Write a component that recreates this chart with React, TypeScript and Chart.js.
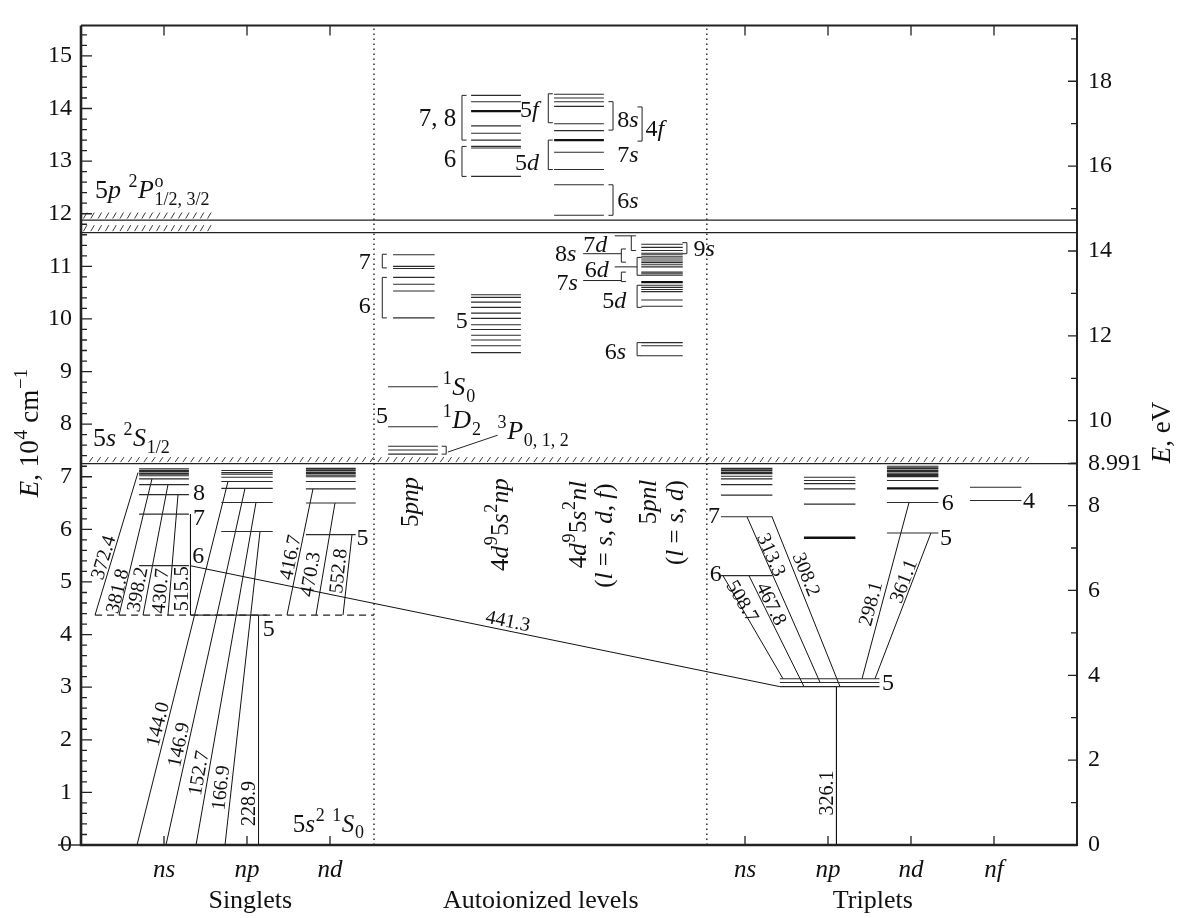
import React, { useEffect, useRef } from 'react';
import { Chart, registerables } from 'chart.js';

Chart.register(...registerables);

const FONT = '"Liberation Serif", "Times New Roman", "DejaVu Serif", serif';

// ---------- axes ----------
const Y_MAX = 15.58; // 10^4 cm^-1
const CM_PER_EV = 0.80655; // 10^4 cm^-1 per eV
const Y_TICKS = [0, 1, 2, 3, 4, 5, 6, 7, 8, 9, 10, 11, 12, 13, 14, 15];
const EV_TICKS = [0, 2, 4, 6, 8, 8.991, 10, 12, 14, 16, 18];
const EV_MINOR = [1, 3, 5, 7, 9, 11, 13, 15, 17, 19];
const X_TICKS = [1, 2, 3, 8, 9, 10, 11];
const X_TICK_LABELS = ['ns', 'np', 'nd', 'ns', 'np', 'nd', 'nf'];
const GROUPS = ['Singlets', 'Autoionized levels', 'Triplets'];
const GROUP_X = [2.04, 5.54, 9.54];

// ---------- reference lines ----------
const IONIZATION = 7.25;
const ION_P = [11.88, 11.64];
const SINGLET_P1 = 4.37;
const SEPARATORS = [3.53, 7.54];

// ---------- level energies (10^4 cm^-1) ----------
const SINGLET_NS = [5.31, 6.29, 6.66, 6.85, 6.96, 7.02, 7.05, 7.07, 7.1, 7.12, 7.15];
const SINGLET_NP = [5.96, 6.51, 6.78, 6.91, 6.99, 7.05, 7.08, 7.12];
const SINGLET_ND = [5.9, 6.5, 6.77, 6.91, 7.0, 7.03, 7.06, 7.08, 7.11, 7.13, 7.16];
const TRIPLET_P = [3.01, 3.09, 3.16];
const TRIPLET_NS = [5.12, 6.24, 6.65, 6.85, 6.96, 7.01, 7.06, 7.08, 7.11, 7.13, 7.16];
const TRIPLET_NP = [6.48, 6.77, 6.87, 6.93, 6.99];
const TRIPLET_NP_THICK = [5.84];
const TRIPLET_ND = [5.93, 6.51, 6.93, 7.0, 7.02, 7.04, 7.07, 7.1, 7.12, 7.15, 7.17, 7.2];
const TRIPLET_ND_THICK = [6.78];
const TRIPLET_NF = [6.55, 6.8];
const AUTO_5PNP_LOW = [7.43, 7.51, 7.58, 7.95, 8.71];
const AUTO_5PNP_67 = [10.02, 10.53, 10.66, 10.79, 10.96, 11.0, 11.22];
const AUTO_4D_NP = [9.36, 9.49, 9.6, 9.69, 9.8, 9.89, 10.01, 10.11, 10.22, 10.32, 10.41, 10.46];
const AUTO_5PNP_HIGH = [12.71, 13.25, 13.28, 13.4, 13.53, 13.67, 14.13, 14.25];
const AUTO_5PNP_HIGH_THICK = [13.95];
const AUTO_4D_NL = [11.97, 12.55, 12.84, 13.17, 13.58, 13.71, 14.04, 14.13, 14.2, 14.27];
const AUTO_4D_NL_THICK = [13.4];
const AUTO_5PNL = [9.3, 9.49, 9.55, 10.24, 10.36, 10.52, 10.56, 10.6, 10.64, 10.83, 10.86, 10.89, 10.99, 11.03, 11.07, 11.1, 11.14, 11.18, 11.22, 11.25, 11.3, 11.36, 11.42];
const AUTO_5PNL_THICK = [10.7];

// column centres (category units) and half widths
const COLUMNS: [number[], number, number][] = [
  [SINGLET_NS, 1.0, 0.3],
  [SINGLET_NP, 2.0, 0.31],
  [SINGLET_ND, 3.01, 0.3],
  [TRIPLET_NS, 8.02, 0.31],
  [TRIPLET_NP, 9.02, 0.31],
  [TRIPLET_ND, 10.02, 0.31],
  [TRIPLET_NF, 11.02, 0.31],
  [TRIPLET_P, 9.02, 0.6],
  [AUTO_5PNP_LOW, 4.0, 0.3],
  [AUTO_5PNP_67, 4.01, 0.25],
  [AUTO_4D_NP, 5.0, 0.3],
  [AUTO_5PNP_HIGH, 5.0, 0.3],
  [AUTO_4D_NL, 6.0, 0.3],
  [AUTO_5PNL, 7.0, 0.25],
];
const THICK_COLUMNS: [number[], number, number][] = [
  [TRIPLET_NP_THICK, 9.02, 0.31],
  [TRIPLET_ND_THICK, 10.02, 0.31],
  [AUTO_5PNP_HIGH_THICK, 5.0, 0.3],
  [AUTO_4D_NL_THICK, 6.0, 0.3],
  [AUTO_5PNL_THICK, 7.0, 0.25],
];
const SINGLET_P1_SPAN = [1.319, 2.24];

// ---------- transitions: wavelength (nm), from (x, E), to (x, E) ----------
const TRANSITIONS: [string, number, number, number, number][] = [
  ['144.0', 0.675, 0, 1.771, 6.91],
  ['146.9', 1.024, 0, 1.976, 6.78],
  ['152.7', 1.386, 0, 2.108, 6.51],
  ['166.9', 1.735, 0, 2.157, 5.96],
  ['228.9', 2.139, 0, 2.139, 4.37],
  ['372.4', 0.687, 7.08, 0.169, 4.37],
  ['381.8', 0.855, 6.96, 0.458, 4.37],
  ['398.2', 1.048, 6.85, 0.747, 4.37],
  ['430.7', 1.169, 6.66, 1.048, 4.37],
  ['515.5', 1.319, 6.29, 1.319, 4.37],
  ['416.7', 2.795, 6.77, 2.482, 4.37],
  ['470.3', 3.06, 6.5, 2.831, 4.37],
  ['552.8', 3.265, 5.9, 3.157, 4.37],
  ['441.3', 1.313, 5.31, 8.42, 3.01],
  ['508.7', 7.735, 5.12, 8.458, 3.16],
  ['467.8', 8.048, 5.12, 8.711, 3.01],
  ['313.3', 8.024, 6.24, 8.904, 3.09],
  ['308.2', 8.325, 6.24, 9.145, 3.01],
  ['298.1', 9.976, 6.51, 9.41, 3.16],
  ['361.1', 10.24, 5.93, 9.566, 3.16],
  ['326.1', 9.102, 3.01, 9.102, 0],
];
const TRANSITION_LABEL_AT: [number, number][] = [
  [0.916, 2.3], [1.169, 1.91], [1.41, 1.37], [1.675, 1.09], [2.012, 0.79],
  [0.262, 5.47], [0.43, 4.83], [0.672, 4.86], [0.948, 4.83], [1.205, 4.87],
  [2.514, 5.47], [2.755, 5.15], [3.092, 5.21],
  [5.145, 4.27],
  [7.976, 4.64], [8.325, 4.59], [8.325, 5.52], [8.747, 5.15], [9.506, 4.59], [9.904, 5.02],
  [8.982, 0.99],
];

// ---------- brackets: x, E1, E2, side (+1 opens right "[", -1 opens left "]") ----------
const BRACKETS: [number, number, number, number][] = [
  [3.63, 10.97, 11.23, 1],
  [3.63, 10.02, 10.79, 1],
  [4.4, 7.43, 7.58, -1],
  [4.59, 13.4, 14.25, 1],
  [4.59, 12.71, 13.28, 1],
  [5.63, 13.73, 14.28, 1],
  [5.63, 12.84, 13.4, 1],
  [6.41, 13.59, 14.13, -1],
  [6.76, 13.38, 14.03, -1],
  [6.41, 11.97, 12.55, -1],
  [7.3, 11.24, 11.45, -1],
  [6.63, 11.3, 11.58, 1],
  [6.51, 11.08, 11.33, 1],
  [6.7, 10.83, 11.17, 1],
  [6.51, 10.71, 10.89, 1],
  [6.7, 10.22, 10.64, 1],
  [6.7, 9.3, 9.55, 1],
];
const CONNECTORS: [number, number, number, number][] = [
  [4.42, 7.47, 5.02, 7.79],
  [6.43, 11.58, 6.63, 11.58],
  [6.05, 11.24, 6.51, 11.24],
  [6.43, 10.99, 6.7, 10.99],
  [6.05, 10.73, 6.51, 10.73],
];

// ---------- text labels: markup, x, E (baseline), align, size ----------
const LEVEL_TEXTS: [string, number, number, string, number][] = [
  ['8', 1.35, 6.55, 'left', 24],
  ['7', 1.35, 6.09, 'left', 24],
  ['6', 1.34, 5.37, 'left', 24],
  ['5', 2.19, 3.97, 'left', 24],
  ['5', 3.32, 5.71, 'left', 24],
  ['5', 3.7, 8.02, 'right', 24],
  ['7', 3.49, 10.94, 'right', 24],
  ['6', 3.49, 10.11, 'right', 24],
  ['5', 4.66, 9.83, 'right', 24],
  ['7, 8', 4.52, 13.67, 'right', 25],
  ['6', 4.52, 12.89, 'right', 25],
  ['5*f*', 5.29, 13.83, 'left', 24],
  ['5*d*', 5.23, 12.83, 'left', 24],
  ['8*s*', 6.46, 13.64, 'left', 24],
  ['4*f*', 6.8, 13.48, 'left', 24],
  ['7*s*', 6.46, 12.98, 'left', 24],
  ['6*s*', 6.46, 12.11, 'left', 24],
  ['9*s*', 7.38, 11.2, 'left', 24],
  ['8*s*', 5.71, 11.11, 'left', 24],
  ['7*d*', 6.05, 11.27, 'left', 24],
  ['6*d*', 6.07, 10.8, 'left', 24],
  ['7*s*', 5.73, 10.55, 'left', 24],
  ['5*d*', 6.28, 10.21, 'left', 24],
  ['6*s*', 6.31, 9.24, 'left', 24],
  ['^{1}*S*_{0}', 4.35, 8.55, 'left', 26],
  ['^{1}*D*_{2}', 4.35, 7.93, 'left', 26],
  ['^{3}*P*_{0, 1, 2}', 5.01, 7.71, 'left', 26],
  ['7', 7.7, 6.12, 'right', 24],
  ['6', 7.72, 5.02, 'right', 24],
  ['5', 9.65, 2.94, 'left', 24],
  ['6', 10.37, 6.37, 'left', 24],
  ['5', 10.35, 5.71, 'left', 24],
  ['4', 11.35, 6.4, 'left', 24],
  ['5*s*^{2} ^{1}*S*_{0}', 2.55, 0.25, 'left', 25],
  ['5*s* ^{2}*S*_{1/2}', 0.145, 7.58, 'left', 26],
  ['5*p* ^{2}*P*^{o}_{1/2, 3/2}', 0.17, 12.3, 'left', 26],
];
// vertical configuration labels: markup, baseline x, centre E
const CONFIG_TEXTS: [string, number, number][] = [
  ['5*pnp*', 4.06, 6.52],
  ['4*d*^{9}5*s*^{2}*np*', 5.14, 6.09],
  ['4*d*^{9}5*s*^{2}*nl*', 6.08, 6.09],
  ['(*l* = *s*, *d*, *f*)', 6.4, 5.88],
  ['5*pnl*', 6.93, 6.52],
  ['(*l* = *s*, *d*)', 7.25, 6.13],
];

// ---------- helpers ----------
type Pt = { x: number; y: number | null };
function seg(x1: number, y1: number, x2: number, y2: number): Pt[] {
  return [{ x: x1, y: y1 }, { x: x2, y: y2 }, { x: x2, y: null }];
}
function levelSegs(cols: [number[], number, number][]): Pt[] {
  const out: Pt[] = [];
  cols.forEach(([levels, c, hw]) => levels.forEach((e) => out.push(...seg(c - hw, e, c + hw, e))));
  return out;
}

type RSeg = { kind: 'base' | 'script'; t?: string; it?: boolean; sup?: string; sub?: string };
function parseRich(m: string): RSeg[] {
  const out: RSeg[] = [];
  let it = false;
  let buf = '';
  let i = 0;
  const flush = () => {
    if (buf) {
      out.push({ kind: 'base', t: buf, it });
      buf = '';
    }
  };
  while (i < m.length) {
    const c = m[i];
    if (c === '*') {
      flush();
      it = !it;
      i++;
      continue;
    }
    if ((c === '^' || c === '_') && m[i + 1] === '{') {
      flush();
      const j = m.indexOf('}', i);
      const content = m.slice(i + 2, j);
      const last = out[out.length - 1];
      if (c === '_' && last && last.kind === 'script' && last.sup !== undefined && last.sub === undefined) {
        last.sub = content;
      } else if (c === '^') out.push({ kind: 'script', sup: content });
      else out.push({ kind: 'script', sub: content });
      i = j + 1;
      continue;
    }
    buf += c;
    i++;
  }
  flush();
  return out;
}

function drawRich(
  ctx: CanvasRenderingContext2D,
  markup: string,
  px: number,
  py: number,
  size: number,
  align: string,
  rot = 0,
  vmid = false
) {
  const segs = parseRich(markup);
  const baseF = (it?: boolean) => `${it ? 'italic ' : ''}${size}px ${FONT}`;
  const smallF = `${Math.round(size * 0.7)}px ${FONT}`;
  const widths: number[] = [];
  let W = 0;
  for (const s of segs) {
    let w = 0;
    if (s.kind === 'base') {
      ctx.font = baseF(s.it);
      w = ctx.measureText(s.t || '').width;
    } else {
      ctx.font = smallF;
      w = Math.max(s.sup ? ctx.measureText(s.sup).width : 0, s.sub ? ctx.measureText(s.sub).width : 0) + size * 0.05;
    }
    widths.push(w);
    W += w;
  }
  ctx.save();
  ctx.translate(px, py);
  ctx.rotate((rot * Math.PI) / 180);
  ctx.fillStyle = '#111';
  ctx.textAlign = 'left';
  ctx.textBaseline = 'alphabetic';
  let cx = align === 'left' ? 0 : align === 'center' ? -W / 2 : -W;
  const by = vmid ? size * 0.34 : 0;
  segs.forEach((s, k) => {
    if (s.kind === 'base') {
      ctx.font = baseF(s.it);
      ctx.fillText(s.t || '', cx, by);
    } else {
      ctx.font = smallF;
      if (s.sup) ctx.fillText(s.sup, cx + size * 0.03, by - size * 0.42);
      if (s.sub) ctx.fillText(s.sub, cx + size * 0.03, by + size * 0.26);
    }
    cx += widths[k];
  });
  ctx.restore();
}

const diagramPlugin = {
  id: 'diagram',
  afterDraw(chart: any) {
    const { ctx, chartArea: ca, scales } = chart;
    const xs = scales.x;
    const ys = scales.y;
    const y2 = scales.y2;
    const X = (v: number) => xs.getPixelForValue(v);
    const Y = (v: number) => ys.getPixelForValue(v);
    ctx.save();
    ctx.strokeStyle = '#222';
    ctx.lineCap = 'butt';

    // hatching above series limits
    const hatch = (e: number, u0: number, u1: number, step: number, h: number) => {
      const py = Y(e);
      ctx.beginPath();
      for (let p = X(u0); p < X(u1); p += step) {
        ctx.moveTo(p, py - 1.5);
        ctx.lineTo(p + 3.5, py - 1.5 - h);
      }
      ctx.lineWidth = 0.9;
      ctx.stroke();
    };
    hatch(IONIZATION, 0.1, 11.47, 7.8, 5);
    ION_P.forEach((e) => hatch(e, 0.03, 1.61, 7.3, 6));

    // inward ticks
    ctx.lineWidth = 1.3;
    ctx.beginPath();
    for (let k = 0; k * 0.2 <= Y_MAX; k++) {
      const v = k * 0.2;
      const len = k % 5 === 0 ? 11 : 6;
      const p = Y(v);
      ctx.moveTo(ca.left, p);
      ctx.lineTo(ca.left + len, p);
    }
    EV_TICKS.forEach((v) => {
      const p = y2.getPixelForValue(v);
      ctx.moveTo(ca.right, p);
      ctx.lineTo(ca.right - 9, p);
    });
    EV_MINOR.forEach((v) => {
      const p = y2.getPixelForValue(v);
      if (p < ca.top) return;
      ctx.moveTo(ca.right, p);
      ctx.lineTo(ca.right - 6, p);
    });
    X_TICKS.forEach((v) => {
      const p = X(v);
      ctx.moveTo(p, ca.bottom);
      ctx.lineTo(p, ca.bottom - 9);
      ctx.moveTo(p, ca.top);
      ctx.lineTo(p, ca.top + 10);
    });
    ctx.stroke();

    // frame
    ctx.lineWidth = 2.6;
    ctx.beginPath();
    ctx.moveTo(ca.left, ca.top);
    ctx.lineTo(ca.left, ca.bottom);
    ctx.lineTo(ca.right, ca.bottom);
    ctx.stroke();
    ctx.lineWidth = 2;
    ctx.beginPath();
    ctx.moveTo(ca.left, ca.top);
    ctx.lineTo(ca.right, ca.top);
    ctx.lineTo(ca.right, ca.bottom + 1);
    ctx.stroke();
    ctx.lineWidth = 1.4;
    ctx.beginPath();
    ctx.moveTo(ca.left - 23, Y(0));
    ctx.lineTo(ca.left, Y(0));
    ctx.stroke();

    // transition wavelength labels
    TRANSITIONS.forEach(([nm, x1, e1, x2, e2], i) => {
      const dx = X(x2) - X(x1);
      const dy = Y(e2) - Y(e1);
      let a = (Math.atan2(dy, dx) * 180) / Math.PI;
      if (a >= 89.9) a -= 180;
      if (a < -90.1) a += 180;
      const [lx, ly] = TRANSITION_LABEL_AT[i];
      drawRich(ctx, nm, X(lx), Y(ly), 20, 'center', a, true);
    });

    // level / term labels
    LEVEL_TEXTS.forEach(([m, x, e, al, sz]) => drawRich(ctx, m, X(x), Y(e), sz, al, 0));
    CONFIG_TEXTS.forEach(([m, x, e]) => drawRich(ctx, m, X(x), Y(e), 25, 'center', -90));

    // group labels below the axis
    GROUPS.forEach((g, i) => drawRich(ctx, g, X(GROUP_X[i]), ca.bottom + 63, 26, 'center', 0));

    // axis titles
    drawRich(ctx, '*E*, 10^{4} cm^{\u22121}', ca.left - 43, Y(6.61), 27, 'left', -90);
    drawRich(ctx, '*E*, eV', ca.right + 93, y2.getPixelForValue(8.995), 27, 'left', -90);
    ctx.restore();
  },
};

export default function App() {
  const ref = useRef<HTMLCanvasElement>(null);
  useEffect(() => {
    document.body.style.margin = '0';
    const levelData = levelSegs(COLUMNS);
    levelData.push(...seg(SINGLET_P1_SPAN[0], SINGLET_P1, SINGLET_P1_SPAN[1], SINGLET_P1));
    const thickData = levelSegs(THICK_COLUMNS);
    const transData: Pt[] = [];
    TRANSITIONS.forEach(([, x1, e1, x2, e2]) => transData.push(...seg(x1, e1, x2, e2)));
    const limitData: Pt[] = [...seg(0, IONIZATION, 12, IONIZATION)];
    ION_P.forEach((e) => limitData.push(...seg(0, e, 12, e)));
    const dashedData = seg(0.17, SINGLET_P1, SEPARATORS[0], SINGLET_P1);
    const dottedData: Pt[] = [];
    SEPARATORS.forEach((s) => dottedData.push(...seg(s, 0, s, Y_MAX)));
    const bracketData: Pt[] = [];
    BRACKETS.forEach(([x, e1, e2, side]) => {
      const w = 0.055 * side;
      bracketData.push({ x: x + w, y: e1 }, { x, y: e1 }, { x, y: e2 }, { x: x + w, y: e2 }, { x, y: null });
    });
    CONNECTORS.forEach(([x1, e1, x2, e2]) => bracketData.push(...seg(x1, e1, x2, e2)));

    const common = { showLine: true, pointRadius: 0, fill: false, spanGaps: false, tension: 0 };
    const chart = new Chart(ref.current as HTMLCanvasElement, {
      type: 'scatter',
      data: {
        datasets: [
          { ...common, data: levelData, borderColor: '#2b2b2b', borderWidth: 1.1 },
          { ...common, data: thickData, borderColor: '#111', borderWidth: 2.4 },
          { ...common, data: transData, borderColor: '#111', borderWidth: 1 },
          { ...common, data: limitData, borderColor: '#222', borderWidth: 1.2 },
          { ...common, data: dashedData, borderColor: '#222', borderWidth: 1.1, borderDash: [7, 5] },
          { ...common, data: dottedData, borderColor: '#222', borderWidth: 1.4, borderDash: [1.5, 3.5] },
          { ...common, data: bracketData, borderColor: '#222', borderWidth: 1 },
        ] as any,
      },
      options: {
        animation: false,
        responsive: true,
        maintainAspectRatio: false,
        events: [],
        layout: { padding: { top: 14, left: 0, right: 0, bottom: 0 } },
        plugins: { legend: { display: false }, tooltip: { enabled: false }, title: { display: false } },
        scales: {
          x: {
            type: 'linear',
            position: 'bottom',
            min: 0,
            max: 12,
            grid: { display: false, drawTicks: false },
            border: { display: false },
            afterBuildTicks: (s: any) => {
              s.ticks = X_TICKS.map((v) => ({ value: v }));
            },
            afterFit: (s: any) => {
              s.height = 73;
            },
            ticks: {
              autoSkip: false,
              maxRotation: 0,
              padding: 10,
              color: '#111',
              font: { family: FONT, size: 25, style: 'italic' },
              callback: (v: any) => X_TICK_LABELS[X_TICKS.indexOf(Number(v))] ?? '',
            },
          },
          y: {
            type: 'linear',
            position: 'left',
            min: 0,
            max: Y_MAX,
            grid: { display: false, drawTicks: false },
            border: { display: false },
            afterBuildTicks: (s: any) => {
              s.ticks = Y_TICKS.map((v) => ({ value: v }));
            },
            afterFit: (s: any) => {
              s.width = 81;
            },
            ticks: {
              autoSkip: false,
              padding: 9,
              color: '#111',
              font: { family: FONT, size: 24 },
              callback: (v: any) => String(v),
            },
          },
          y2: {
            type: 'linear',
            position: 'right',
            min: 0,
            max: Y_MAX / CM_PER_EV,
            grid: { display: false, drawTicks: false },
            border: { display: false },
            afterBuildTicks: (s: any) => {
              s.ticks = EV_TICKS.map((v) => ({ value: v }));
            },
            afterFit: (s: any) => {
              s.width = 101;
            },
            ticks: {
              autoSkip: false,
              padding: 11,
              color: '#111',
              font: { family: FONT, size: 24 },
              callback: (v: any) => (Number(v) === 8.991 ? '8.991' : String(v)),
            },
          },
        },
      } as any,
      plugins: [diagramPlugin],
    });
    return () => chart.destroy();
  }, []);
  return (
    <div style={{ width: 1178, height: 918, position: 'relative', background: '#fff' }}>
      <canvas ref={ref} />
    </div>
  );
}
